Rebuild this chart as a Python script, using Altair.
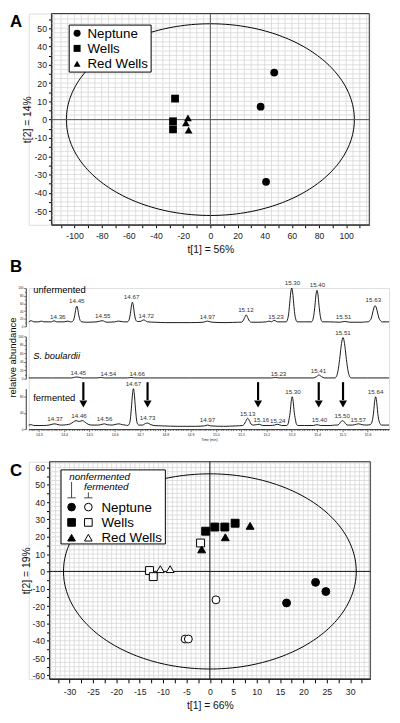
import numpy as np
import pandas as pd
import altair as alt

FONT = "Liberation Sans"

# ---------------- Panel A: PCA scores ----------------
categories = ["Neptune", "Wells", "Red Wells"]
cat_shapes = ["circle", "square", "triangle-up"]

a_group = ["Neptune", "Neptune", "Neptune", "Wells", "Wells", "Wells",
           "Red Wells", "Red Wells", "Red Wells"]
a_t1 = [47.0, 37.0, 41.0, -26.0, -27.5, -27.5, -16.5, -18.0, -16.0]
a_t2 = [25.7, 7.1, -34.0, 11.5, -0.9, -5.3, 0.9, -1.8, -5.8]
a_radii = [106.0, 52.4]

# ---------------- Panel C: PCA scores ----------------
c_group = ["Neptune", "Neptune", "Neptune", "Wells", "Wells", "Wells",
           "Red Wells", "Red Wells",
           "Neptune", "Neptune", "Neptune", "Wells", "Wells", "Wells", "Wells",
           "Red Wells", "Red Wells", "Red Wells"]
c_state = ["fermented"] * 8 + ["nonfermented"] * 10
c_t1 = [1.3, -5.3, -4.6, -2.0, -12.9, -12.1, -10.6, -8.5,
        22.6, 24.8, 16.4, -0.9, 1.05, 3.2, 5.4, -1.75, 3.3, 8.6]
c_t2 = [-16.4, -39.0, -39.0, 16.4, 0.5, -3.0, 1.3, 1.3,
        -6.3, -11.6, -18.2, 23.2, 25.6, 25.6, 27.8, 12.7, 19.7, 26.3]
c_radii = [31.3, 56.3]

# ---------------- Panel B: chromatograms (time, relative abundance) ----------------
unfermented = [
    (14.26, 12), (14.27, 15), (14.28, 12), (14.30, 12), (14.31, 14), (14.32, 12), (14.35, 12),
    (14.36, 15), (14.37, 12), (14.40, 12), (14.415, 14), (14.425, 12),
    (14.43, 12), (14.436, 15), (14.442, 29), (14.446, 45), (14.45, 53), (14.454, 45),
    (14.458, 29), (14.464, 15), (14.47, 12),
    (14.49, 11), (14.53, 12), (14.55, 15), (14.57, 11), (14.60, 12), (14.615, 14), (14.635, 12),
    (14.65, 12), (14.656, 16), (14.662, 33), (14.666, 53), (14.67, 63), (14.674, 53),
    (14.678, 33), (14.684, 16), (14.69, 13),
    (14.70, 13), (14.715, 17), (14.73, 12), (14.76, 11), (14.80, 10), (14.85, 10), (14.90, 10),
    (14.95, 11), (14.967, 14), (14.985, 11), (15.04, 10), (15.09, 11),
    (15.10, 11), (15.107, 14), (15.112, 20), (15.116, 26), (15.12, 30), (15.124, 26),
    (15.128, 20), (15.133, 14), (15.14, 11),
    (15.17, 11), (15.20, 12), (15.21, 14), (15.22, 12), (15.23, 16), (15.245, 12), (15.265, 12),
    (15.278, 12), (15.283, 17), (15.288, 33), (15.292, 59), (15.296, 87), (15.30, 100),
    (15.304, 87), (15.308, 59), (15.312, 33), (15.317, 17), (15.322, 12),
    (15.35, 12), (15.378, 12), (15.383, 16), (15.388, 32), (15.392, 55), (15.396, 82),
    (15.40, 94), (15.404, 82), (15.408, 55), (15.412, 32), (15.417, 16), (15.422, 12),
    (15.45, 12), (15.49, 11), (15.51, 13), (15.53, 11), (15.58, 11), (15.595, 12),
    (15.602, 12), (15.609, 15), (15.615, 22), (15.62, 35), (15.625, 48), (15.63, 54),
    (15.635, 48), (15.64, 35), (15.645, 22), (15.651, 15), (15.658, 12), (15.685, 12),
]
boulardii = [
    (14.26, 2), (14.35, 2), (14.43, 2), (14.445, 4), (14.455, 4), (14.47, 2), (14.53, 2),
    (14.545, 3), (14.56, 2), (14.65, 2), (14.665, 3), (14.68, 2), (14.90, 2), (15.10, 2),
    (15.22, 2), (15.235, 3), (15.25, 2), (15.385, 2), (15.398, 5), (15.408, 9), (15.418, 5),
    (15.43, 2), (15.471, 2), (15.478, 7), (15.485, 25), (15.491, 53), (15.497, 83),
    (15.503, 97), (15.509, 83), (15.515, 53), (15.521, 25), (15.528, 7), (15.535, 2),
    (15.60, 2), (15.685, 2),
]
fermented = [
    (14.26, 10), (14.27, 11), (14.28, 9), (14.32, 9), (14.34, 10), (14.352, 12), (14.364, 13),
    (14.376, 11), (14.39, 10), (14.41, 11),
    (14.425, 13), (14.437, 18), (14.447, 21), (14.46, 19), (14.473, 21), (14.483, 17),
    (14.495, 12), (14.51, 10), (14.535, 10),
    (14.55, 12), (14.56, 13), (14.57, 11), (14.59, 10), (14.605, 12), (14.617, 13), (14.63, 11),
    (14.642, 10),
    (14.652, 9), (14.657, 12), (14.662, 25), (14.666, 52), (14.670, 84), (14.674, 100),
    (14.678, 84), (14.682, 52), (14.686, 25), (14.691, 12), (14.696, 10),
    (14.71, 10), (14.722, 14), (14.73, 15), (14.74, 12), (14.755, 9), (14.79, 8), (14.85, 7),
    (14.92, 7), (14.955, 8), (14.967, 10), (14.98, 8), (15.03, 7), (15.08, 8),
    (15.105, 9), (15.112, 12), (15.118, 19), (15.122, 24), (15.126, 27), (15.130, 24),
    (15.134, 19), (15.14, 12), (15.147, 10),
    (15.16, 11), (15.172, 12), (15.185, 9), (15.215, 9), (15.232, 10), (15.245, 12), (15.26, 9),
    (15.28, 9), (15.285, 12), (15.290, 26), (15.294, 42), (15.298, 68), (15.302, 80),
    (15.306, 68), (15.310, 42), (15.314, 26), (15.319, 12), (15.324, 9),
    (15.35, 9), (15.385, 9), (15.40, 11), (15.415, 9), (15.455, 9), (15.47, 10),
    (15.48, 10), (15.487, 12), (15.493, 17), (15.497, 20), (15.501, 21), (15.505, 20),
    (15.509, 17), (15.515, 12), (15.522, 10),
    (15.54, 10), (15.555, 12), (15.565, 13), (15.578, 11), (15.595, 10),
    (15.61, 11), (15.615, 14), (15.62, 24), (15.624, 42), (15.628, 68), (15.632, 80),
    (15.636, 68), (15.640, 42), (15.644, 24), (15.649, 14), (15.655, 10), (15.67, 10),
    (15.685, 10),
]
unfermented_labels = [
    ("14.36", 14.375, 16), ("14.45", 14.45, 58), ("14.55", 14.553, 19), ("14.67", 14.667, 68),
    ("14.72", 14.725, 19), ("14.97", 14.967, 16), ("15.12", 15.119, 34), ("15.23", 15.238, 16),
    ("15.30", 15.303, 104), ("15.40", 15.402, 98), ("15.51", 15.505, 16), ("15.63", 15.623, 59),
]
boulardii_labels = [
    ("14.45", 14.456, 6), ("14.54", 14.575, 3), ("14.66", 14.689, 3), ("15.23", 15.248, 3),
    ("15.41", 15.406, 11), ("15.51", 15.503, 100),
]
fermented_labels = [
    ("14.37", 14.364, 17), ("14.46", 14.459, 24), ("14.56", 14.56, 17), ("14.67", 14.674, 102),
    ("14.73", 14.73, 20), ("14.97", 14.967, 14), ("15.13", 15.126, 30), ("15.16", 15.18, 13),
    ("15.24", 15.245, 11), ("15.30", 15.305, 83), ("15.40", 15.41, 14), ("15.50", 15.50, 24),
    ("15.57", 15.563, 14), ("15.64", 15.632, 83),
]
arrow_times = [14.476, 14.73, 15.167, 15.407, 15.503]

# ---------------- helpers ----------------
one = pd.DataFrame({"k": [0]})
GRID = "#d6d6d6"


def ellipse(rx, ry):
    th = np.linspace(0, 2 * np.pi, 241)
    return pd.DataFrame({"x": rx * np.cos(th), "y": ry * np.sin(th), "i": np.arange(th.size)})


def cond(test, yes, no):
    return {"condition": {"test": test, "value": yes}, "value": no}


AX = dict(labelFont=FONT, labelColor="#222", titleFont=FONT, titleFontSize=10.5,
          titleFontWeight="normal", titleColor="#111", domainColor="#000", domainWidth=1,
          tickColor="#000", tickWidth=1, grid=False)


def label_text(text, x, y, size=13.5, style="normal", align="left", angle=0, weight="normal",
               color="black", baseline="middle"):
    return alt.Chart(one).mark_text(text=text, align=align, baseline=baseline, fontSize=size,
                                    font=FONT, fontStyle=style, fontWeight=weight, angle=angle,
                                    color=color).encode(x=alt.value(x), y=alt.value(y))


def pca_panel(letter, xs, ys, xdom, ydom, left, W, H, xgrid, ygrid, xtick, xlab, ytick, ylab,
              xtitle, ytitle, xticksize, xlabpad, radii, zero_color, point_layer, legend_layers):
    xenc = alt.X("x:Q", scale=alt.Scale(domain=xdom, range=[left, W], nice=False, zero=False),
                 axis=alt.Axis(values=xs, tickSize=xticksize, labelFontSize=8.8, labelPadding=xlabpad,
                               labelExpr=f"datum.value % {xlab} === 0 ? '' + datum.value : ''",
                               tickOpacity=cond(f"datum.value % {xtick} === 0", 1, 0),
                               title=xtitle, titlePadding=5, **AX))
    yenc = alt.Y("y:Q", scale=alt.Scale(domain=ydom, nice=False, zero=False),
                 axis=alt.Axis(values=ys, tickSize=3, labelFontSize=8.8, labelPadding=2, offset=-left,
                               labelExpr=f"datum.value % {ylab} === 0 ? '' + datum.value : ''",
                               tickOpacity=cond(f"datum.value % {ytick} === 0", 1, 0),
                               title=ytitle, titlePadding=1, **AX))
    zero = pd.DataFrame({"x": [0.0], "y": [0.0]})
    layers = [
        alt.Chart(pd.DataFrame({"x": xgrid})).mark_rule(color=GRID, strokeWidth=0.8).encode(x=xenc),
        alt.Chart(pd.DataFrame({"y": ygrid})).mark_rule(color=GRID, strokeWidth=0.8).encode(
            y=yenc, x=alt.value(left), x2=alt.value(W)),
        alt.Chart(one).mark_rect(fillOpacity=0, stroke="#333", strokeWidth=1).encode(
            x=alt.value(left), x2=alt.value(W), y=alt.value(0), y2=alt.value(H)),
        alt.Chart(ellipse(*radii)).mark_line(color="black", strokeWidth=1).encode(
            x=xenc, y=yenc, order="i:Q"),
        alt.Chart(zero).mark_rule(color=zero_color, strokeWidth=1).encode(x=xenc),
        alt.Chart(zero).mark_rule(color=zero_color, strokeWidth=1).encode(
            y=yenc, x=alt.value(left), x2=alt.value(W)),
        point_layer(xenc, yenc),
    ]
    layers += legend_layers
    layers.append(label_text(letter, -19, 9, size=17, weight="bold"))
    return alt.layer(*layers).properties(width=W, height=H)


# ---------------- Panel A ----------------
A_LEFT, A_W, A_H = 23, 345, 214
dfA = pd.DataFrame({"x": a_t1, "y": a_t2, "group": a_group})


def a_points(xenc, yenc):
    return alt.Chart(dfA).mark_point(filled=True, color="black", size=62, opacity=1).encode(
        x=xenc, y=yenc,
        shape=alt.Shape("group:N", scale=alt.Scale(domain=categories, range=cat_shapes), legend=None))


a_legend = [alt.Chart(one).mark_rect(fill="white", stroke="black", strokeWidth=1).encode(
    x=alt.value(A_LEFT + 18), x2=alt.value(A_LEFT + 101), y=alt.value(11.7), y2=alt.value(59.3))]
for cat, shp, yy in zip(categories, cat_shapes, [20, 35.3, 50.8]):
    a_legend.append(alt.Chart(one).mark_point(shape=shp, filled=True, color="black", size=50,
                                              opacity=1).encode(x=alt.value(A_LEFT + 26), y=alt.value(yy)))
    a_legend.append(label_text(cat, A_LEFT + 36.5, yy + 0.5))

panelA = pca_panel(
    "A",
    [float(v) for v in np.arange(-110, 110.1, 10)],
    [float(v) for v in np.arange(-55, 55.1, 5)],
    [-117, 117], [-57.5, 58], A_LEFT, A_W, A_H,
    [float(v) for v in np.arange(-115, 115.1, 5)],
    [round(float(v), 1) for v in np.arange(-57.5, 57.6, 2.5)],
    10, 20, 5, 10, "t[1] = 56%", "t[2] = 14%", 3, 3.5, a_radii, "#555", a_points, a_legend)

# ---------------- Panel B (one chart, three stacked traces with own y scales) ----------------
B_W = 365
ROW1, ROW2, ROW3 = [39, 0], [92, 49], [143, 102]   # pixel bands of the three traces
B_H = ROW3[0]
t_scale = alt.Scale(domain=[14.26, 15.685], nice=False, zero=False)
t_vals = [round(float(v), 2) for v in np.arange(14.26, 15.6851, 0.01)]
is_major = "abs(datum.value * 10 - round(datum.value * 10)) < 0.001"
xB = alt.X("t:Q", scale=t_scale, axis=alt.Axis(
    values=t_vals, grid=False, tickSize=cond(is_major, 2.6, 1.3), tickWidth=0.5, tickColor="#000",
    domainColor="#000", domainWidth=0.8,
    labelExpr=is_major + " ? format(datum.value, '.1f') : ''", labelFontSize=3.5, labelFont=FONT,
    labelPadding=1, labelColor="#222", title="Time (min)", titleFontSize=3.5, titleFont=FONT,
    titleFontWeight="normal", titlePadding=1.5, titleColor="#222"))


def band_scale(band):
    return alt.Scale(domain=[0, 100], range=band, nice=False, zero=False)


def yB(band):
    return alt.Y("v:Q", scale=band_scale(band),
                 axis=alt.Axis(values=list(range(0, 101, 10)), grid=False, offset=3, orient="left",
                               tickSize=cond("datum.value % 20 === 0", 2.2, 1.2), tickWidth=0.5,
                               tickColor="#000", domainColor="#000", domainWidth=0.8,
                               labelExpr="datum.value % 20 === 0 ? '' + datum.value : ''",
                               labelFontSize=3.2, labelFont=FONT, labelPadding=0.5, labelColor="#222",
                               title=None))


def trace(points, labels, band, extra=()):
    tr = pd.DataFrame(points, columns=["t", "v"])
    lb = pd.DataFrame(labels, columns=["label", "t", "v"])
    y = yB(band)
    line = alt.Chart(tr).mark_line(color="black", strokeWidth=0.9, interpolate="monotone").encode(
        x=xB, y=y)
    txt = alt.Chart(lb).mark_text(fontSize=6.3, font=FONT, baseline="bottom", dy=-0.5,
                                  color="#333").encode(x=xB, y=y, text="label:N")
    return alt.layer(line, txt, *[e(band) for e in extra])


arr = pd.DataFrame({"t": arrow_times})
arrow_parts = [
    lambda band: alt.Chart(arr).mark_rule(color="black", strokeWidth=2.2).encode(
        x=xB, y=alt.Y(datum=116, scale=band_scale(band)), y2=alt.datum(72)),
    lambda band: alt.Chart(arr).mark_point(shape="triangle-down", filled=True, color="black",
                                           size=64, opacity=1).encode(
        x=xB, y=alt.Y(datum=62, scale=band_scale(band))),
]

panelB = alt.layer(
    trace(unfermented, unfermented_labels, ROW1),
    trace(boulardii, boulardii_labels, ROW2),
    trace(fermented, fermented_labels, ROW3, extra=arrow_parts),
    label_text("unfermented", 4.5, ROW1[1] + 2, size=9.5),
    label_text("S. boulardii", 4.5, ROW2[1] + 19.7, size=9.5, style="italic"),
    label_text("fermented", 4.5, ROW3[1] + 9.7, size=9.5),
    label_text("relative abundance", -15.5, ROW2[1] + 21.5, size=9.6, align="center", angle=270),
    label_text("B", -19, -21.3, size=17, weight="bold"),
    alt.Chart(one).mark_rect(color="white").encode(
        x=alt.value(0), x2=alt.value(1), y=alt.value(B_H + 29), y2=alt.value(B_H + 30.5)),
).resolve_scale(y="independent").properties(width=B_W, height=B_H)

# ---------------- Panel C ----------------
C_LEFT, C_W, C_H = 21, 346, 220
dfC = pd.DataFrame({"x": c_t1, "y": c_t2, "group": c_group, "state": c_state})


def c_points(xenc, yenc):
    return alt.Chart(dfC).mark_point(filled=True, stroke="black", strokeWidth=1, size=64,
                                     opacity=1).encode(
        x=xenc, y=yenc,
        shape=alt.Shape("group:N", scale=alt.Scale(domain=categories, range=cat_shapes), legend=None),
        fill=alt.Fill("state:N", scale=alt.Scale(domain=["nonfermented", "fermented"],
                                                 range=["black", "white"]), legend=None))


c_legend = [
    alt.Chart(one).mark_rect(fill="white", stroke="black", strokeWidth=1).encode(
        x=alt.value(C_LEFT + 11.7), x2=alt.value(C_LEFT + 117.4), y=alt.value(8.3), y2=alt.value(83.3)),
    label_text("nonfermented", C_LEFT + 20, 15.3, size=10, style="italic"),
    label_text("fermented", C_LEFT + 35, 25.9, size=10, style="italic"),
]
for bx, ytop in [(C_LEFT + 22.4, 20.5), (C_LEFT + 39.4, 31)]:
    c_legend.append(alt.Chart(one).mark_rule(color="#444", strokeWidth=1).encode(
        x=alt.value(bx), y=alt.value(ytop), y2=alt.value(36.6)))
    c_legend.append(alt.Chart(one).mark_rule(color="#444", strokeWidth=1).encode(
        x=alt.value(bx - 4.2), x2=alt.value(bx + 4.2), y=alt.value(36.6)))
for cat, shp, yy in zip(categories, cat_shapes, [46, 61.5, 77]):
    c_legend.append(alt.Chart(one).mark_point(shape=shp, filled=True, fill="black", stroke="black",
                                              strokeWidth=1, size=60, opacity=1).encode(
        x=alt.value(C_LEFT + 22.4), y=alt.value(yy)))
    c_legend.append(alt.Chart(one).mark_point(shape=shp, filled=True, fill="white", stroke="black",
                                              strokeWidth=1, size=60, opacity=1).encode(
        x=alt.value(C_LEFT + 39.4), y=alt.value(yy)))
    c_legend.append(label_text(cat, C_LEFT + 52.7, yy + 0.5))

panelC = pca_panel(
    "C",
    [float(v) for v in np.arange(-32.5, 32.6, 2.5)],
    [float(v) for v in np.arange(-60, 60.1, 5)],
    [-34.3, 34.3], [-62, 63.3], C_LEFT, C_W, C_H,
    [float(v) for v in np.arange(-34, 34.1, 1)],
    [float(v) for v in np.arange(-60, 62.6, 2.5)],
    2.5, 5, 5, 10, "t[1] = 66%", "t[2] = 19%", 4, 4.5, c_radii, "#111", c_points, c_legend)

chart = alt.vconcat(panelA, panelB, panelC, spacing=1).properties(padding=0)
chart = chart.configure_view(strokeWidth=0, strokeOpacity=0).configure(font=FONT)
chart.save("out.html", embed_options={"renderer": "svg", "actions": False})
